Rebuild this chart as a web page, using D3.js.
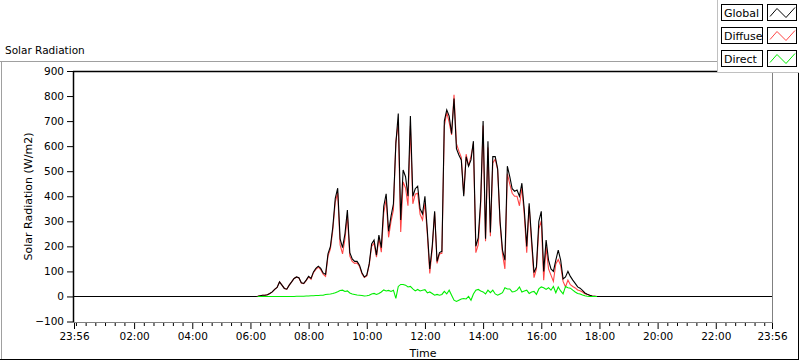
<!DOCTYPE html>
<html><head><meta charset="utf-8">
<script src="https://cdn.jsdelivr.net/npm/d3@7"></script>
<style>
html,body{margin:0;padding:0;background:#fff;}
svg{display:block;}
text{font-family:"DejaVu Sans",sans-serif;fill:#000;}
</style></head><body>
<svg id="c" width="800" height="361"></svg>
<script>
const chartTitle = "Solar Radiation";
const yTitle = "Solar Radiation (W/m2)";
const xTitle = "Time";
const seriesNames = ["Global", "Diffuse", "Direct"];
const seriesColors = ["#000000", "#ff4545", "#00ee00"];
const xTickLabels = ["23:56","02:00","04:00","06:00","08:00","10:00","12:00","14:00","16:00","18:00","20:00","22:00","23:56"];
const yTickValues = [-100,0,100,200,300,400,500,600,700,800,900];
const dayStart = "23:56";       // axis starts 23:56 previous day, spans 24h
const sampleStart = "06:00";
const sampleStepMin = 5;
const nightValue = 0;

const globalValues = [
 0,0,0,1,3,5,5,7,12,18,
 28,36,58,45,32,29,45,58,72,78,
 75,55,52,65,80,72,98,112,121,112,
 94,88,170,200,278,392,432,230,195,250,
 345,175,150,140,140,125,95,78,85,130,
 210,225,165,245,195,360,410,260,320,370,
 610,730,305,505,478,400,720,400,430,440,
 350,330,400,260,110,200,340,140,175,180,
 700,745,720,650,790,590,565,545,400,558,
 520,545,620,200,235,385,700,230,620,255,
 558,558,510,300,185,145,520,478,430,420,
 425,400,452,345,200,372,230,95,118,300,
 340,100,225,145,110,100,145,185,145,70,
 78,100,80,65,52,38,33,24,14,9,
 5,2,1,0,0,0,0,0,0,0,
 0];

const diffuseValues = [
 0,0,0,1,3,5,5,7,12,18,
 28,36,58,45,32,29,45,58,72,77,
 74,54,51,63,78,69,95,108,117,107,
 89,80,161,190,266,377,413,206,170,230,
 323,161,140,132,134,120,91,76,82,125,
 200,213,157,233,177,334,388,236,300,345,
 618,690,257,457,433,362,680,370,408,412,
 328,305,373,246,92,188,335,132,170,172,
 680,735,695,645,805,610,580,555,408,568,
 520,560,610,175,207,363,682,220,595,240,
 533,548,505,290,170,110,490,448,412,400,
 400,362,434,323,175,360,212,75,110,270,
 302,65,197,110,85,60,130,147,123,60,
 38,65,47,40,34,26,23,18,11,8,
 5,2,1,0,0,0,0,0,0,0,
 0];

const directValues = [
 null,null,null,0,0,0,0,0,0,0,
 0,0,0,0,0,0,0,0,0,1,
 1,1,1,2,2,3,3,4,4,5,
 5,8,9,10,12,15,19,24,25,20,
 22,14,10,8,6,5,4,2,3,5,
 10,12,8,12,18,26,22,24,20,25,
 -8,40,48,48,45,38,40,30,22,28,
 22,25,27,14,18,12,5,8,5,8,
 20,10,25,5,-15,-20,-15,-10,-8,-10,
 0,-15,10,25,28,22,18,10,25,15,
 25,10,5,10,15,35,30,30,18,20,
 25,38,18,22,25,12,18,20,8,30,
 38,35,28,35,25,40,15,38,22,10,
 40,35,33,25,18,12,10,6,3,1,
 0,0,0,0,null,null,null,null,null,null,
 null];

// ---------- helpers ----------
function hm(s){ const [h,m] = s.split(":").map(Number); return h*60+m; }
function offsetFromStart(label, isEnd){ // minutes since 23:56 of previous day
  let d = hm(label) - hm(dayStart);
  if (d < 0 || (isEnd && d === 0)) d += 1440;
  return d;
}
const sampleOffset = offsetFromStart(sampleStart);

function buildSeries(values){
  const pts = [{t:0, v:nightValue}];
  values.forEach((v,i)=>pts.push({t: sampleOffset + i*sampleStepMin, v}));
  pts.push({t:1440, v:nightValue});
  return pts;
}

const svg = d3.select("#c");
const L = 74, R = 772, T = 71, B = 322;

const x = d3.scaleLinear().domain([0,1440]).range([L, R]);
const y = d3.scaleLinear().domain([-100, 900]).range([B - 0.5, T]);

// outer panel frame
svg.append("line").attr("x1",0).attr("x2",717).attr("y1",61.5).attr("y2",61.5).attr("stroke","#a0a0a0");
svg.append("line").attr("x1",1.5).attr("x2",1.5).attr("y1",61).attr("y2",359).attr("stroke","#a0a0a0");
svg.append("line").attr("x1",0).attr("x2",799).attr("y1",359.5).attr("y2",359.5).attr("stroke","#000");
svg.append("line").attr("x1",798.5).attr("x2",798.5).attr("y1",72).attr("y2",360).attr("stroke","#000");

// title
svg.append("text").attr("x",5).attr("y",54).style("font-size","10.5px").text(chartTitle);

// plot frame
svg.append("line").attr("x1",L-1).attr("x2",R).attr("y1",T+0.5).attr("y2",T+0.5).attr("stroke","#000").attr("stroke-width",1.5);
svg.append("line").attr("x1",L-0.5).attr("x2",L-0.5).attr("y1",T).attr("y2",B).attr("stroke","#000").attr("stroke-width",1.5);
svg.append("line").attr("x1",L-1).attr("x2",R+1).attr("y1",B+0.5).attr("y2",B+0.5).attr("stroke","#808080");
svg.append("line").attr("x1",R+0.5).attr("x2",R+0.5).attr("y1",T).attr("y2",B).attr("stroke","#808080");

// y axis
const yAxis = d3.axisLeft(y).tickValues(yTickValues).tickSize(6).tickPadding(3).tickFormat(d3.format("d"));
const gy = svg.append("g").attr("transform",`translate(${L-1},0)`).call(yAxis);
gy.select(".domain").remove();
gy.selectAll("line").attr("stroke","#000");
gy.selectAll("text").style("font-size","10.5px").style("font-family","DejaVu Sans");

// x axis major
const xMajorVals = xTickLabels.map((l,i)=>offsetFromStart(l, i===xTickLabels.length-1));
const xAxis = d3.axisBottom(x).tickValues(xMajorVals).tickSize(6).tickPadding(4)
  .tickFormat((d,i)=>xTickLabels[i]);
const gx = svg.append("g").attr("transform",`translate(0,${B+1})`).call(xAxis);
gx.select(".domain").remove();
gx.selectAll("line").attr("stroke","#000");
gx.selectAll("text").style("font-size","10.5px").style("font-family","DejaVu Sans");
// x axis minor (every 20 minutes from 00:00)
const minorVals = d3.range(offsetFromStart("00:00"), 1440, 20).filter(v=>!xMajorVals.includes(v));
const gxm = svg.append("g").attr("transform",`translate(0,${B+1})`)
  .call(d3.axisBottom(x).tickValues(minorVals).tickSize(3).tickFormat(""));
gxm.select(".domain").remove();
gxm.selectAll("line").attr("stroke","#000");

// axis titles
svg.append("text").attr("transform",`translate(32,${(T+B)/2}) rotate(-90)`).attr("text-anchor","middle")
  .style("font-size","11px").text(yTitle);
svg.append("text").attr("x",(L+R)/2).attr("y",357).attr("text-anchor","middle").style("font-size","11px").text(xTitle);

// lines
svg.append("clipPath").attr("id","pc").append("rect").attr("x",L).attr("y",T).attr("width",R-L).attr("height",B-T);
const line = d3.line().defined(d=>d.v!==null).x(d=>x(d.t)).y(d=>y(d.v));
const gl = svg.append("g").attr("clip-path","url(#pc)");
const directSeries = [{t:0,v:null}].concat(directValues.map((v,i)=>({t: sampleOffset+i*sampleStepMin, v})));
gl.append("path").datum(buildSeries(diffuseValues)).attr("d",line).attr("fill","none").attr("stroke",seriesColors[1]).attr("stroke-width",1.1);
gl.append("path").datum(buildSeries(globalValues)).attr("d",line).attr("fill","none").attr("stroke",seriesColors[0]).attr("stroke-width",1.1);
gl.append("path").datum(directSeries).attr("d",line).attr("fill","none").attr("stroke",seriesColors[2]).attr("stroke-width",1.1);

// legend
const lg = svg.append("g");
lg.append("rect").attr("x",717).attr("y",-1).attr("width",82).attr("height",73).attr("fill","#fff");
lg.append("line").attr("x1",717.5).attr("x2",717.5).attr("y1",0).attr("y2",72).attr("stroke","#c0c0c0");
lg.append("line").attr("x1",717).attr("x2",799).attr("y1",72.5).attr("y2",72.5).attr("stroke","#c0c0c0");
seriesNames.forEach((name,i)=>{
  const y0 = 4 + i*23;
  lg.append("rect").attr("x",721.5).attr("y",y0+0.5).attr("width",41).attr("height",16).attr("fill","#fff").attr("stroke","#000");
  lg.append("text").attr("x",724).attr("y",y0+13).style("font-size","11px").text(name);
  lg.append("rect").attr("x",767.5).attr("y",y0+0.5).attr("width",29).attr("height",16).attr("fill","#fff").attr("stroke","#000");
  const sw = [[2,12],[9,4],[18,13],[27,3]];
  lg.append("path").attr("d", d3.line()(sw.map(p=>[768+p[0], y0+p[1]+0.5])))
    .attr("fill","none").attr("stroke",seriesColors[i]).attr("stroke-width",1);
});
</script>
</body></html>
